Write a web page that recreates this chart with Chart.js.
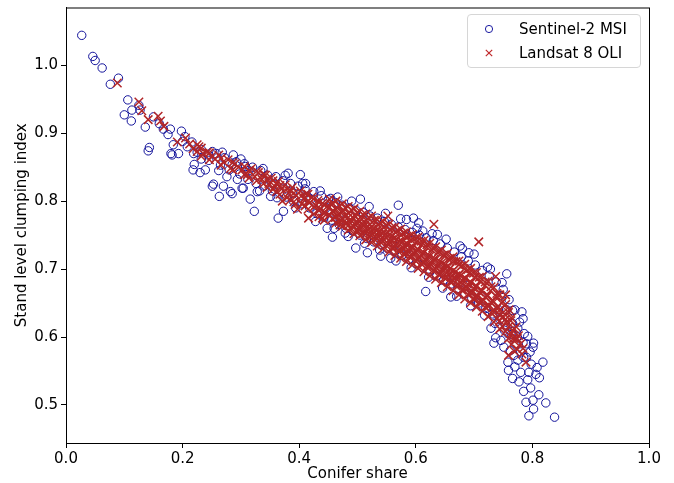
<!DOCTYPE html>
<html>
<head>
<meta charset="utf-8">
<script src="https://cdn.jsdelivr.net/npm/chart.js@4"></script>
<style>
  html, body { margin: 0; padding: 0; background: #fff; }
  #wrap { position: relative; width: 674px; height: 483px; }
  #legend {
    position: absolute; left: 467px; top: 14px; width: 172px; height: 52px;
    border: 1px solid #d6d6d6; border-radius: 4px; background: rgba(255,255,255,0.85);
    font-family: "DejaVu Sans", sans-serif; font-size: 15px; color: #000;
  }
  .row { position: absolute; left: 0; height: 20px; line-height: 20px; }
  .row span.txt { position: absolute; left: 51px; white-space: nowrap; }
  .mk { position: absolute; left: 16px; top: 5px; width: 10px; height: 10px; }
</style>
</head>
<body>
<div id="wrap">
  <canvas id="chart" width="674" height="483"></canvas>
  <div id="legend">
    <div class="row" style="top:4px">
      <svg class="mk" viewBox="0 0 10 10"><circle cx="5" cy="5" r="3.6" fill="none" stroke="#1a1aa0" stroke-width="1"/></svg>
      <span class="txt">Sentinel-2 MSI</span>
    </div>
    <div class="row" style="top:28px">
      <svg class="mk" viewBox="0 0 10 10"><path d="M1.8 1.8L8.2 8.2M8.2 1.8L1.8 8.2" stroke="#c0282a" stroke-width="1.2"/></svg>
      <span class="txt">Landsat 8 OLI</span>
    </div>
  </div>
</div>
<script>
// ── Data ───────────────────────────────────────────────────────────────────

const xTicks = [0.0, 0.2, 0.4, 0.6, 0.8, 1.0];
const yTicks = [0.5, 0.6, 0.7, 0.8, 0.9, 1.0];

// Sentinel-2 MSI: [conifer share, clumping index]
const sentinel = [
  [0.027,1.044],[0.046,1.013],[0.050,1.007],[0.062,0.996],[0.076,0.972],[0.090,0.981],
  [0.106,0.949],[0.100,0.927],[0.112,0.918],[0.113,0.934],[0.125,0.941],[0.127,0.934],
  [0.136,0.909],[0.150,0.924],[0.143,0.879],[0.141,0.874],[0.160,0.914],[0.167,0.906],
  [0.179,0.906],[0.175,0.898],[0.198,0.903],[0.184,0.883],[0.180,0.870],[0.193,0.870],
  [0.204,0.895],[0.216,0.887],[0.219,0.870],[0.220,0.854],[0.218,0.846],[0.230,0.842],
  [0.239,0.846],[0.251,0.873],[0.253,0.825],[0.251,0.822],[0.270,0.822],[0.263,0.807],
  [0.285,0.811],[0.276,0.836],[0.287,0.868],[0.304,0.819],[0.285,0.854],[0.182,0.868],
  [0.282,0.814],[0.302,0.819],[0.316,0.803],[0.328,0.814],[0.323,0.785],[0.351,0.807],
  [0.364,0.775],[0.373,0.785],[0.381,0.841],[0.402,0.839],[0.411,0.826],[0.414,0.807],
  [0.308,0.851],[0.454,0.804],[0.505,0.803],[0.570,0.794],[0.448,0.760],[0.457,0.747],
  [0.479,0.753],[0.497,0.731],[0.517,0.724],[0.540,0.719],[0.596,0.775],[0.584,0.773],
  [0.612,0.756],[0.637,0.751],[0.605,0.768],[0.557,0.716],[0.680,0.730],[0.691,0.724],
  [0.723,0.703],[0.756,0.693],[0.617,0.667],[0.660,0.659],[0.746,0.661],[0.766,0.639],
  [0.782,0.637],[0.784,0.627],[0.729,0.613],[0.737,0.599],[0.734,0.591],[0.792,0.601],
  [0.802,0.591],[0.801,0.585],[0.818,0.563],[0.759,0.551],[0.766,0.539],[0.777,0.534],
  [0.785,0.520],[0.792,0.537],[0.794,0.548],[0.789,0.504],[0.801,0.507],[0.811,0.515],
  [0.823,0.503],[0.802,0.494],[0.794,0.484],[0.838,0.482],[0.775,0.566],[0.758,0.563],
  [0.768,0.573],[0.785,0.570],[0.751,0.585],[0.746,0.595],[0.775,0.613],[0.758,0.605],
  [0.200,0.888],[0.208,0.880],[0.225,0.872],[0.232,0.862],[0.245,0.860],[0.258,0.870],
  [0.265,0.853],[0.272,0.864],[0.280,0.846],[0.292,0.858],[0.298,0.840],[0.306,0.855],
  [0.312,0.832],[0.320,0.850],[0.326,0.826],[0.334,0.845],[0.340,0.822],[0.346,0.838],
  [0.354,0.815],[0.360,0.836],[0.366,0.812],[0.372,0.830],[0.378,0.806],[0.385,0.826],
  [0.390,0.800],[0.398,0.822],[0.405,0.796],[0.410,0.818],[0.418,0.790],[0.425,0.814],
  [0.430,0.782],[0.438,0.808],[0.442,0.776],[0.450,0.802],[0.456,0.772],[0.462,0.798],
  [0.468,0.766],[0.474,0.794],[0.480,0.760],[0.486,0.790],[0.492,0.756],[0.498,0.786],
  [0.504,0.750],[0.510,0.783],[0.516,0.745],[0.522,0.778],[0.528,0.740],[0.534,0.775],
  [0.540,0.736],[0.546,0.770],[0.552,0.730],[0.558,0.766],[0.564,0.726],[0.570,0.762],
  [0.576,0.720],[0.582,0.758],[0.588,0.714],[0.594,0.754],[0.600,0.708],[0.606,0.750],
  [0.612,0.702],[0.618,0.746],[0.624,0.696],[0.630,0.742],[0.636,0.690],[0.642,0.737],
  [0.648,0.684],[0.654,0.731],[0.660,0.678],[0.666,0.725],[0.672,0.671],[0.678,0.718],
  [0.684,0.664],[0.690,0.712],[0.696,0.657],[0.702,0.706],[0.708,0.650],[0.714,0.698],
  [0.720,0.642],[0.726,0.690],[0.732,0.634],[0.738,0.681],[0.744,0.626],[0.750,0.670],
  [0.754,0.618],[0.760,0.655],[0.764,0.604],[0.770,0.640],[0.772,0.590],[0.778,0.622],
  [0.780,0.578],[0.786,0.605],[0.790,0.590],[0.796,0.578],[0.808,0.555],[0.812,0.540],
  [0.797,0.525],[0.780,0.548],[0.770,0.556],[0.762,0.580],[0.752,0.610],[0.742,0.640],
  [0.232,0.876],[0.244,0.868],[0.262,0.845],[0.268,0.872],[0.294,0.832],[0.300,0.862],
  [0.314,0.845],[0.332,0.815],[0.338,0.848],[0.356,0.826],[0.362,0.805],[0.376,0.838],
  [0.388,0.812],[0.394,0.790],[0.406,0.826],[0.420,0.803],[0.428,0.770],[0.436,0.815],
  [0.446,0.790],[0.460,0.760],[0.466,0.806],[0.476,0.772],[0.484,0.748],[0.490,0.800],
  [0.502,0.764],[0.512,0.738],[0.520,0.792],[0.530,0.752],[0.538,0.728],[0.548,0.782],
  [0.560,0.740],[0.566,0.712],[0.574,0.774],[0.586,0.730],[0.592,0.702],[0.602,0.760],
  [0.614,0.716],[0.622,0.688],[0.628,0.752],[0.640,0.700],[0.646,0.672],[0.652,0.744],
  [0.664,0.690],[0.670,0.660],[0.676,0.734],[0.688,0.676],[0.694,0.646],[0.700,0.722],
  [0.712,0.660],[0.718,0.632],[0.728,0.700],[0.736,0.620],[0.748,0.680],[0.756,0.640],
  [0.766,0.620],[0.774,0.600],[0.784,0.592],[0.790,0.570],[0.798,0.560],[0.806,0.545],
];

// Landsat 8 OLI: [conifer share, clumping index]
const landsat = [
  [0.088,0.974],[0.125,0.946],[0.130,0.933],[0.141,0.920],[0.158,0.925],[0.162,0.918],
  [0.168,0.910],[0.191,0.887],[0.205,0.893],[0.212,0.884],[0.218,0.877],[0.228,0.880],
  [0.235,0.870],[0.242,0.872],[0.250,0.866],[0.256,0.862],[0.262,0.868],[0.270,0.858],
  [0.278,0.861],[0.282,0.848],[0.290,0.855],[0.296,0.850],[0.302,0.846],[0.311,0.839],
  [0.318,0.848],[0.324,0.836],[0.330,0.842],[0.336,0.832],[0.342,0.838],[0.348,0.826],
  [0.352,0.834],[0.358,0.822],[0.364,0.829],[0.370,0.818],[0.371,0.800],[0.376,0.824],
  [0.382,0.812],[0.388,0.820],[0.393,0.795],[0.395,0.808],[0.397,0.788],[0.402,0.815],
  [0.408,0.803],[0.412,0.811],[0.416,0.775],[0.418,0.798],[0.422,0.806],[0.428,0.794],
  [0.432,0.801],[0.436,0.789],[0.440,0.797],[0.444,0.784],[0.448,0.792],[0.452,0.780],
  [0.455,0.795],[0.458,0.786],[0.462,0.776],[0.465,0.790],[0.468,0.781],[0.472,0.771],
  [0.475,0.786],[0.478,0.777],[0.482,0.768],[0.485,0.782],[0.488,0.773],[0.492,0.764],
  [0.495,0.779],[0.498,0.770],[0.502,0.761],[0.505,0.776],[0.508,0.767],[0.512,0.758],
  [0.515,0.772],[0.518,0.763],[0.522,0.754],[0.525,0.769],[0.528,0.760],[0.532,0.750],
  [0.535,0.765],[0.538,0.756],[0.542,0.746],[0.545,0.761],[0.548,0.752],[0.552,0.778],
  [0.553,0.742],[0.556,0.757],[0.559,0.748],[0.562,0.738],[0.565,0.754],[0.568,0.744],
  [0.571,0.734],[0.574,0.750],[0.577,0.740],[0.580,0.730],[0.583,0.747],[0.586,0.736],
  [0.589,0.726],[0.592,0.743],[0.595,0.732],[0.598,0.722],[0.601,0.740],[0.604,0.728],
  [0.607,0.717],[0.610,0.736],[0.613,0.724],[0.616,0.713],[0.619,0.732],[0.622,0.720],
  [0.625,0.708],[0.628,0.728],[0.631,0.766],[0.632,0.715],[0.635,0.703],[0.638,0.724],
  [0.641,0.711],[0.644,0.699],[0.647,0.720],[0.650,0.706],[0.653,0.694],[0.656,0.715],
  [0.659,0.701],[0.662,0.689],[0.665,0.711],[0.668,0.696],[0.671,0.684],[0.674,0.706],
  [0.677,0.691],[0.680,0.678],[0.683,0.700],[0.686,0.686],[0.689,0.672],[0.692,0.694],
  [0.695,0.680],[0.698,0.666],[0.701,0.688],[0.704,0.674],[0.707,0.660],[0.708,0.740],
  [0.710,0.682],[0.713,0.668],[0.716,0.654],[0.719,0.676],[0.722,0.661],[0.725,0.647],
  [0.728,0.668],[0.731,0.653],[0.734,0.640],[0.737,0.689],[0.738,0.660],[0.741,0.645],
  [0.744,0.632],[0.747,0.650],[0.750,0.636],[0.754,0.662],[0.755,0.622],[0.759,0.573],
  [0.760,0.640],[0.763,0.624],[0.766,0.610],[0.768,0.598],[0.772,0.615],[0.776,0.602],
  [0.780,0.590],[0.784,0.583],[0.789,0.563],[0.782,0.575],
  [0.600,0.712],[0.620,0.705],[0.640,0.692],[0.660,0.682],[0.680,0.670],[0.700,0.655],
  [0.560,0.732],[0.580,0.722],[0.520,0.748],[0.500,0.755],[0.470,0.765],[0.440,0.775],
  // dense core of the band
  [0.452,0.803],[0.452,0.791],[0.452,0.779],[0.457,0.797],[0.457,0.785],[0.457,0.774],
  [0.463,0.800],[0.463,0.788],[0.463,0.777],[0.463,0.768],[0.469,0.793],[0.469,0.780],
  [0.469,0.770],[0.474,0.796],[0.474,0.784],[0.474,0.773],[0.474,0.763],[0.479,0.790],
  [0.479,0.779],[0.479,0.767],[0.484,0.792],[0.484,0.776],[0.484,0.764],[0.484,0.757],
  [0.489,0.787],[0.489,0.771],[0.489,0.760],[0.494,0.789],[0.494,0.774],[0.494,0.762],
  [0.494,0.752],[0.499,0.783],[0.499,0.767],[0.499,0.757],[0.504,0.785],[0.504,0.770],
  [0.504,0.758],[0.504,0.749],[0.509,0.780],[0.509,0.764],[0.509,0.752],[0.514,0.781],
  [0.514,0.766],[0.514,0.753],[0.514,0.743],[0.519,0.776],[0.519,0.759],[0.519,0.748],
  [0.524,0.778],[0.524,0.762],[0.524,0.749],[0.524,0.739],[0.529,0.772],[0.529,0.755],
  [0.529,0.744],[0.534,0.773],[0.534,0.758],[0.534,0.745],[0.534,0.734],[0.539,0.768],
  [0.539,0.751],[0.539,0.740],[0.544,0.770],[0.544,0.754],[0.544,0.741],[0.544,0.730],
  [0.549,0.764],[0.549,0.747],[0.549,0.735],[0.554,0.766],[0.554,0.750],[0.554,0.736],
  [0.554,0.725],[0.559,0.761],[0.559,0.743],[0.559,0.731],[0.564,0.762],[0.564,0.746],
  [0.564,0.732],[0.564,0.720],[0.569,0.757],[0.569,0.739],[0.569,0.727],[0.574,0.759],
  [0.574,0.742],[0.574,0.728],[0.574,0.716],[0.579,0.753],[0.579,0.735],[0.579,0.722],
  [0.584,0.755],[0.584,0.738],[0.584,0.724],[0.584,0.711],[0.589,0.749],[0.589,0.731],
  [0.589,0.718],[0.594,0.751],[0.594,0.733],[0.594,0.719],[0.594,0.706],[0.599,0.745],
  [0.599,0.726],[0.599,0.713],[0.604,0.747],[0.604,0.729],[0.604,0.714],[0.604,0.701],
  [0.609,0.741],[0.609,0.721],[0.609,0.708],[0.614,0.742],[0.614,0.724],[0.614,0.709],
  [0.614,0.696],[0.619,0.736],[0.619,0.716],[0.619,0.703],[0.624,0.738],[0.624,0.719],
  [0.624,0.704],[0.624,0.690],[0.629,0.731],[0.629,0.711],[0.629,0.698],[0.634,0.733],
  [0.634,0.714],[0.634,0.699],[0.634,0.685],[0.639,0.726],[0.639,0.706],[0.639,0.692],
  [0.644,0.728],[0.644,0.709],[0.644,0.694],[0.644,0.680],[0.649,0.721],[0.649,0.701],
  [0.649,0.687],[0.654,0.723],[0.654,0.704],[0.654,0.688],[0.654,0.674],[0.659,0.716],
  [0.659,0.695],[0.659,0.681],[0.664,0.718],[0.664,0.698],[0.664,0.683],[0.664,0.668],
  [0.669,0.711],[0.669,0.690],[0.669,0.675],[0.674,0.712],[0.674,0.692],[0.674,0.677],
  [0.674,0.662],[0.679,0.705],[0.679,0.684],[0.679,0.669],[0.684,0.707],[0.684,0.687],
  [0.684,0.671],[0.684,0.656],[0.689,0.699],[0.689,0.678],[0.689,0.663],[0.694,0.701],
  [0.694,0.681],[0.694,0.665],[0.694,0.650],[0.699,0.694],[0.699,0.672],[0.699,0.657],
  [0.704,0.695],[0.704,0.675],[0.704,0.659],[0.704,0.644],[0.709,0.688],[0.709,0.666],
  [0.709,0.651],[0.714,0.689],[0.714,0.668],[0.714,0.652],[0.714,0.638],[0.719,0.681],
  [0.719,0.659],[0.719,0.644],[0.724,0.682],[0.724,0.661],[0.724,0.645],[0.724,0.630],
  [0.729,0.674],[0.729,0.651],[0.729,0.636],[0.734,0.673],[0.734,0.652],[0.734,0.636],
  [0.734,0.622],[0.739,0.664],[0.739,0.642],[0.739,0.627],[0.744,0.662],[0.744,0.640],
  [0.744,0.624],[0.744,0.612],[0.749,0.652],[0.749,0.630],[0.749,0.615],[0.754,0.648],
  [0.754,0.626],[0.754,0.608],[0.759,0.636],[0.759,0.615],[0.759,0.598],[0.764,0.628],
  [0.764,0.605],[0.764,0.589],[0.769,0.612],[0.769,0.594],[0.769,0.579],[0.774,0.598],
  [0.774,0.582],
  [0.225,0.883],[0.225,0.873],[0.232,0.878],[0.232,0.866],[0.246,0.871],[0.246,0.861],
  [0.266,0.863],[0.266,0.853],[0.286,0.857],[0.286,0.846],[0.306,0.851],[0.306,0.839],
  [0.314,0.845],[0.314,0.834],[0.327,0.844],[0.327,0.830],[0.339,0.839],[0.339,0.826],
  [0.345,0.832],[0.345,0.820],[0.355,0.830],[0.355,0.817],[0.361,0.826],[0.361,0.814],
  [0.367,0.823],[0.367,0.810],[0.379,0.818],[0.379,0.805],[0.385,0.815],[0.385,0.802],
  [0.391,0.812],[0.391,0.799],[0.404,0.808],[0.404,0.796],[0.410,0.805],[0.410,0.793],
  [0.415,0.810],[0.415,0.800],[0.415,0.788],[0.425,0.803],[0.425,0.791],[0.425,0.781],
  [0.434,0.798],[0.434,0.786],[0.434,0.777],[0.443,0.794],[0.443,0.782],[0.443,0.772],
];

// ── Helpers ────────────────────────────────────────────────────────────────

const FONT = "'DejaVu Sans', sans-serif";
const toPts = arr => arr.map(([x, y]) => ({ x, y }));

// matplotlib-style frame round the plot area
const framePlugin = {
  id: "frame",
  afterDraw(chart) {
    const { ctx, chartArea: a } = chart;
    ctx.save();
    ctx.strokeStyle = "#000";
    ctx.lineWidth = 1;
    ctx.strokeRect(a.left + 0.5, a.top + 0.5, a.right - a.left, a.bottom - a.top);
    ctx.restore();
  },
};

// ── Chart ──────────────────────────────────────────────────────────────────

new Chart(document.getElementById("chart"), {
  type: "scatter",
  data: {
    datasets: [
      {
        label: "Sentinel-2 MSI",
        data: toPts(sentinel),
        pointStyle: "circle",
        pointRadius: 4.2,
        borderColor: "#12129a",
        backgroundColor: "rgba(0,0,0,0)",
        borderWidth: 1,
        order: 2,
      },
      {
        label: "Landsat 8 OLI",
        data: toPts(landsat),
        pointStyle: "crossRot",
        pointRadius: 6,
        borderColor: "#b22628",
        backgroundColor: "#b22628",
        borderWidth: 1.5,
        order: 1,
      },
    ],
  },
  options: {
    responsive: false,
    animation: false,
    layout: { padding: { left: 0, top: 5, right: 25, bottom: 0 } },
    plugins: { legend: { display: false }, tooltip: { enabled: false } },
    scales: {
      x: {
        type: "linear",
        min: 0, max: 1,
        afterBuildTicks: s => { s.ticks = xTicks.map(v => ({ value: v })); },
        afterFit: s => { s.height = 40; },
        grid: { drawOnChartArea: false, drawTicks: true, tickLength: 5, color: "#000" },
        border: { display: true, color: "#000" },
        ticks: { color: "#000", font: { family: FONT, size: 15 }, padding: 2, maxRotation: 0,
                 callback: v => Number(v).toFixed(1) },
        title: { display: true, text: "Conifer share", color: "#000",
                 font: { family: FONT, size: 15 }, padding: { top: 0, bottom: 0 } },
      },
      y: {
        type: "linear",
        min: 0.444, max: 1.085,
        afterBuildTicks: s => { s.ticks = yTicks.map(v => ({ value: v })); },
        afterFit: s => { s.width = 66; },
        grid: { drawOnChartArea: false, drawTicks: true, tickLength: 5, color: "#000" },
        border: { display: true, color: "#000" },
        ticks: { color: "#000", font: { family: FONT, size: 15, lineHeight: 0.6 }, padding: 3,
                 callback: v => Number(v).toFixed(1) },
        title: { display: true, text: "Stand level clumping index", color: "#000",
                 font: { family: FONT, size: 15 }, padding: { top: 13, bottom: 0 } },
      },
    },
  },
  plugins: [framePlugin],
});
</script>
</body>
</html>
